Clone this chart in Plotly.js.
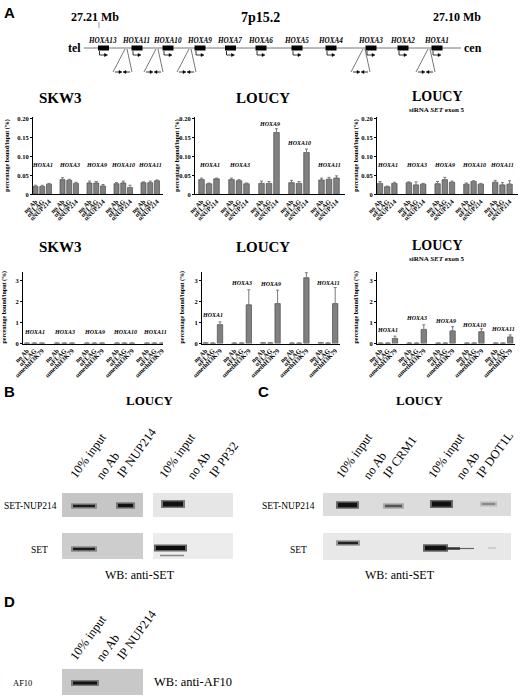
<!DOCTYPE html>
<html><head><meta charset="utf-8">
<script src="https://cdn.plot.ly/plotly-3.0.1.min.js"></script>
<style>html,body{margin:0;padding:0;background:#fff}#chart{width:520px;height:696px}</style>
</head><body><div id="chart"></div>
<script>
// ---------- data ----------
const genes = ['HOXA1','HOXA3','HOXA9','HOXA10','HOXA11'];
const abLabelsNup = ['no Ab','αFLAG','αNUP214'];
const abLabelsK79 = ['no Ab','αFLAG','αmethH3K79'];

const skw3Nup    = [0.021,0.021,0.027, 0.039,0.037,0.029, 0.030,0.030,0.022, 0.028,0.030,0.018, 0.031,0.031,0.036];
const skw3NupErr = [0.003,0.003,0.002, 0.005,0.003,0.003, 0.005,0.004,0.004, 0.003,0.005,0.006, 0.002,0.004,0.002];
const loucyNup    = [0.039,0.028,0.041, 0.039,0.036,0.028, 0.029,0.029,0.164, 0.031,0.029,0.111, 0.038,0.040,0.043];
const loucyNupErr = [0.004,0.002,0.002, 0.004,0.003,0.002, 0.006,0.005,0.010, 0.006,0.005,0.009, 0.005,0.005,0.006];
const siNup    = [0.029,0.020,0.029, 0.031,0.025,0.027, 0.028,0.039,0.032, 0.027,0.034,0.027, 0.032,0.025,0.027];
const siNupErr = [0.005,0.002,0.003, 0.002,0.008,0.002, 0.006,0.006,0.003, 0.003,0.002,0.002, 0.005,0.006,0.009];

const skw3K79    = [0.02,0.02,0.02, 0.02,0.02,0.02, 0.02,0.02,0.02, 0.02,0.02,0.02, 0.02,0.02,0.02];
const skw3K79Err = [0,0,0, 0,0,0, 0,0,0, 0,0,0, 0,0,0];
const loucyK79    = [0.03,0.02,0.90, 0.02,0.02,1.84, 0.03,0.03,1.90, 0.02,0.02,3.13, 0.04,0.02,1.90];
const loucyK79Err = [0,0,0.13, 0,0,0.72, 0,0,0.64, 0,0,0.24, 0,0,0.77];
const siK79    = [0.02,0.02,0.24, 0.02,0.02,0.67, 0.02,0.02,0.60, 0.02,0.02,0.56, 0.02,0.02,0.31];
const siK79Err = [0,0,0.11, 0,0,0.22, 0,0,0.20, 0,0,0.14, 0,0,0.10];

const mapGenes = ['HOXA13','HOXA11','HOXA10','HOXA9','HOXA7','HOXA6','HOXA5','HOXA4','HOXA3','HOXA2','HOXA1'];

// ---------- helpers ----------
const W = 520, H = 696;
const X = p => p / W, Y = p => 1 - p / H;
const SERIF = 'Liberation Serif, Times New Roman, serif';
const SANS = 'Liberation Sans, Arial, sans-serif';
const shapes = [], annotations = [];
function rect(x0,y0,x1,y1,fill,lc,lw){shapes.push({type:'rect',xref:'paper',yref:'paper',x0:X(x0),x1:X(x1),y0:Y(y1),y1:Y(y0),fillcolor:fill,line:{color:lc||fill,width:lw||0},layer:'above'});}
function line(x0,y0,x1,y1,c,w){shapes.push({type:'line',xref:'paper',yref:'paper',x0:X(x0),x1:X(x1),y0:Y(y0),y1:Y(y1),line:{color:c||'#000',width:w||1},layer:'above'});}
function path(pts,fill,c,w,close){let d='M'+pts.map(p=>X(p[0])+','+Y(p[1])).join(' L')+(close?' Z':'');shapes.push({type:'path',xref:'paper',yref:'paper',path:d,fillcolor:fill||'rgba(0,0,0,0)',line:{color:c||'#000',width:w===undefined?1:w},layer:'above'});}
function text(x,y,t,size,o){o=o||{};annotations.push({xref:'paper',yref:'paper',x:X(x),y:Y(y),text:t,showarrow:false,xanchor:o.xa||'center',yanchor:o.ya||'middle',textangle:o.ang||0,borderpad:0,font:{family:o.fam||SERIF,size:size,color:o.color||'#000'}});}
const ctx = document.createElement('canvas').getContext('2d');
// rotated lane label: (sx,sy) = start of baseline, text runs up-right at angle deg
function laneLabel(sx,sy,t,fs,deg){
  ctx.font = fs+'px "Liberation Serif"';
  const L = ctx.measureText(t).width;
  const a = deg*Math.PI/180, c = Math.cos(a), s = Math.sin(a);
  const h = 0.33*fs;
  const cx = sx + (L/2)*c - h*s, cy = sy - (L/2)*s - h*c;
  text(cx,cy,t,fs,{ang:-deg});
}

// ---------- panel A: gene map ----------
text(9,13,'<b>A</b>',15,{fam:SANS});
text(95,17,'<b>27.21 Mb</b>',12);
text(260,17,'<b>7p15.2</b>',14);
text(457,17,'<b>27.10 Mb</b>',12);
line(99,22,99,28,'#999',1);
text(74,48,'<b>tel</b>',12);
text(473,48,'<b>cen</b>',12);
line(84,48,461,48,'#777',1);
const boxCenters = [103.5,137,168,200,230.5,261,297,331,371,403,437];
mapGenes.forEach((g,i)=>{
  const c = boxCenters[i];
  rect(c-5.5,45.5,c+5.5,50.5,'#000');
  text(c-1,40.5,'<b><i>'+g+'</i></b>',7.2);
  path([[c-4,51],[c-4,55],[c+2,55]],null,'#000',0.8);
  path([[c+1,53.5],[c+4,55],[c+1,56.5]],'#000','#000',0.5,true);
});
const triApex = [126,157,190,364,429];
triApex.forEach(a=>{
  line(a-1,49,a-13,72,'#555',0.8);
  line(a+1,49,a+6,72,'#555',0.8);
  line(a-11,72,a-6,72,'#000',0.8);
  path([[a-7,70.5],[a-4,72],[a-7,73.5]],'#000','#000',0.5,true);
  line(a+4,72,a-1,72,'#000',0.8);
  path([[a,70.5],[a-3,72],[a,73.5]],'#000','#000',0.5,true);
});

// ---------- bar panels ----------
const panels = [
  {vals:skw3Nup, err:skw3NupErr, ab:abLabelsNup, start:33, u0:35.5, ppu:6.75, end:163, row:1, lblY:[0.078,0.078,0.078,0.078,0.078], title:[60,98,'SKW3'], ytitleX:8},
  {vals:loucyNup, err:loucyNupErr, ab:abLabelsNup, start:195, u0:201.5, ppu:7.5, end:345, row:1, lblY:[0.078,0.078,0.188,0.137,0.078], title:[263,98,'LOUCY'], ytitleX:178},
  {vals:siNup, err:siNupErr, ab:abLabelsNup, start:377, u0:380, ppu:7.2, end:518, row:1, lblY:[0.078,0.078,0.078,0.078,0.078], title:[437,96,'LOUCY'], sub:true, ytitleX:357},
  {vals:skw3K79, err:skw3K79Err, ab:abLabelsK79, start:23, u0:27, ppu:7.5, end:163, row:2, lblY:[0.55,0.55,0.55,0.55,0.55], title:[60,247,'SKW3'], ytitleX:5},
  {vals:loucyK79, err:loucyK79Err, ab:abLabelsK79, start:202, u0:205.6, ppu:7.2, end:340, row:2, lblY:[1.35,2.9,2.85,3.7,2.9], title:[263,247,'LOUCY'], ytitleX:183},
  {vals:siK79, err:siK79Err, ab:abLabelsK79, start:377, u0:380.6, ppu:7.2, end:515, row:2, lblY:[0.62,1.22,1.05,0.86,0.67], title:[437,245,'LOUCY'], sub:true, ytitleX:357}
];
const rows = {1:{top:117.1,bot:194.3,range:[0,0.205],tick:[0,0.05,0.1,0.15,0.2],tt:['0','0.05','0.10','0.15','0.20']},
              2:{top:271.7,bot:343.5,range:[0,3.42],tick:[0,1,2,3],tt:['0','1','2','3']}};
const traces = [];
const layout = {width:W,height:H,margin:{l:0,r:0,t:0,b:0},paper_bgcolor:'#fff',plot_bgcolor:'rgba(0,0,0,0)',showlegend:false,bargap:0,shapes:shapes,annotations:annotations};
panels.forEach((p,k)=>{
  const n = k+1, xa = 'x'+(n===1?'':n), ya = 'y'+(n===1?'':n);
  const r = rows[p.row];
  const xs = p.vals.map((v,i)=>4*Math.floor(i/3)+(i%3));
  const tl = p.vals.map((v,i)=>'<b>'+p.ab[i%3]+'</b>');
  traces.push({type:'bar',x:xs,y:p.vals,xaxis:xa,yaxis:ya,width:0.75,
    marker:{color:'#808080',line:{color:'#3c3c3c',width:0.6}},
    error_y:{type:'data',symmetric:false,array:p.err,arrayminus:p.err.map(()=>0),color:'#7a7a7a',thickness:1,width:1.5},
    cliponaxis:false,hoverinfo:'none'});
  layout['xaxis'+(n===1?'':n)] = {domain:[X(p.start),X(p.end)],anchor:ya,range:[(p.start-p.u0)/p.ppu,(p.end-p.u0)/p.ppu],
    tickmode:'array',tickvals:xs,ticktext:tl,tickangle:-45,ticks:'',showgrid:false,zeroline:false,showline:true,linecolor:'#000',linewidth:1,
    tickfont:{family:SERIF,size:6.5,color:'#000'},automargin:false};
  layout['yaxis'+(n===1?'':n)] = {domain:[Y(r.bot),Y(r.top)],anchor:xa,range:r.range,tickmode:'array',tickvals:r.tick,ticktext:r.tt.map(t=>'<b>'+t+'</b>'),
    ticks:'outside',ticklen:2,tickwidth:1,tickcolor:'#000',showgrid:false,zeroline:false,showline:true,linecolor:'#000',linewidth:1,
    tickfont:{family:SERIF,size:6.5,color:'#000'},automargin:false};
  genes.forEach((g,gi)=>{
    annotations.push({xref:xa,yref:ya,x:4*gi+1,y:p.lblY[gi],text:'<b><i>'+g+'</i></b>',showarrow:false,xanchor:'center',yanchor:'middle',borderpad:0,font:{family:SERIF,size:6,color:'#000'}});
  });
  text(p.title[0],p.title[1],'<b>'+p.title[2]+'</b>',p.sub?14:15);
  if(p.sub) text(p.title[0],p.title[1]+14,'<b>siRNA <i>SET</i> exon 5</b>',7);
  text(p.ytitleX,(r.top+r.bot)/2,'<b>percentage bound/input (%)</b>',6,{ang:-90});
});

// ---------- western blots ----------
const blotBLanes = ['10% input','no Ab','IP NUP214','10% input','no Ab','IP PP32'];
const blotBLaneX = [76,102,123,165,193,215];
const blotCLanes = ['10% input','no Ab','IP CRM1','10% input','no Ab','IP DOT1L'];
const blotCLaneX = [342,369,389,434,462,482];
const blotDLanes = ['10% input','no Ab','IP NUP214'];
const blotDLaneX = [76,102,123];

text(9,391,'<b>B</b>',15,{fam:SANS});
text(263,391,'<b>C</b>',15,{fam:SANS});
text(9,601,'<b>D</b>',15,{fam:SANS});
text(150,400,'<b>LOUCY</b>',13);
text(420,400,'<b>LOUCY</b>',13);
blotBLanes.forEach((t,i)=>laneLabel(blotBLaneX[i],t.indexOf('no')===0?481:479,t,12.5,54));
blotCLanes.forEach((t,i)=>laneLabel(blotCLaneX[i],t.indexOf('no')===0?481:479,t,12.5,54));
blotDLanes.forEach((t,i)=>laneLabel(blotDLaneX[i],t.indexOf('no')===0?663:661,t,12.5,54));

function band(x0,x1,y,h,c,halo){ if(halo) rect(x0-2,y-h/2-1.5,x1+2,y+h/2+1.5,halo); rect(x0,y-h/2,x1,y+h/2,c); }
// B
rect(62,493,143,517,'#c6c6c6'); rect(153,493,233,517,'#e6e6e6');
rect(62,533,143,559,'#cdcdcd'); rect(153,533,233,559,'#ececec');
text(58,506,'SET-NUP214',9.5,{xa:'right'}); text(39,550,'SET',9.5);
band(73,95,506,2.5,'#1c1c1c','#8a8a8a');
band(118,133,505.5,3.5,'#111','#777');
band(163,183,504,5,'#111','#777');
band(73,95,549,2.5,'#1c1c1c','#8a8a8a');
band(156,185,548,4,'#0d0d0d','#666');
band(160,184,555.5,1.5,'#888',null);
text(140,575,'WB: anti-SET',12);
// C
rect(323,493,511,516,'#dcdcdc'); rect(323,533,511,560,'#e8e8e8');
text(316,506,'SET-NUP214',9.5,{xa:'right'}); text(298,550,'SET',9.5);
band(338,357,505,4.5,'#111','#666');
band(385,402,506,2.5,'#555','#aaa');
band(432,451,504,5,'#111','#666');
band(482,495,504,2,'#888','#bbb');
band(338,358,543,2.5,'#222','#999');
band(425,446,548,4.5,'#111','#666');
band(446,460,548.5,2.5,'#333',null);
band(460,474,548.5,1.2,'#666',null);
band(488,496,548,1,'#bbb',null);
text(400,575,'WB: anti-SET',12);
// D
rect(62,669,143,695,'#c8c8c8');
text(22,683,'AF10',8.5);
band(73,97,683,3,'#111','#777');
text(153,682,'WB: anti-AF10',12.5,{xa:'left'});

Plotly.newPlot('chart',traces,layout,{displayModeBar:false,staticPlot:true});
</script></body></html>
